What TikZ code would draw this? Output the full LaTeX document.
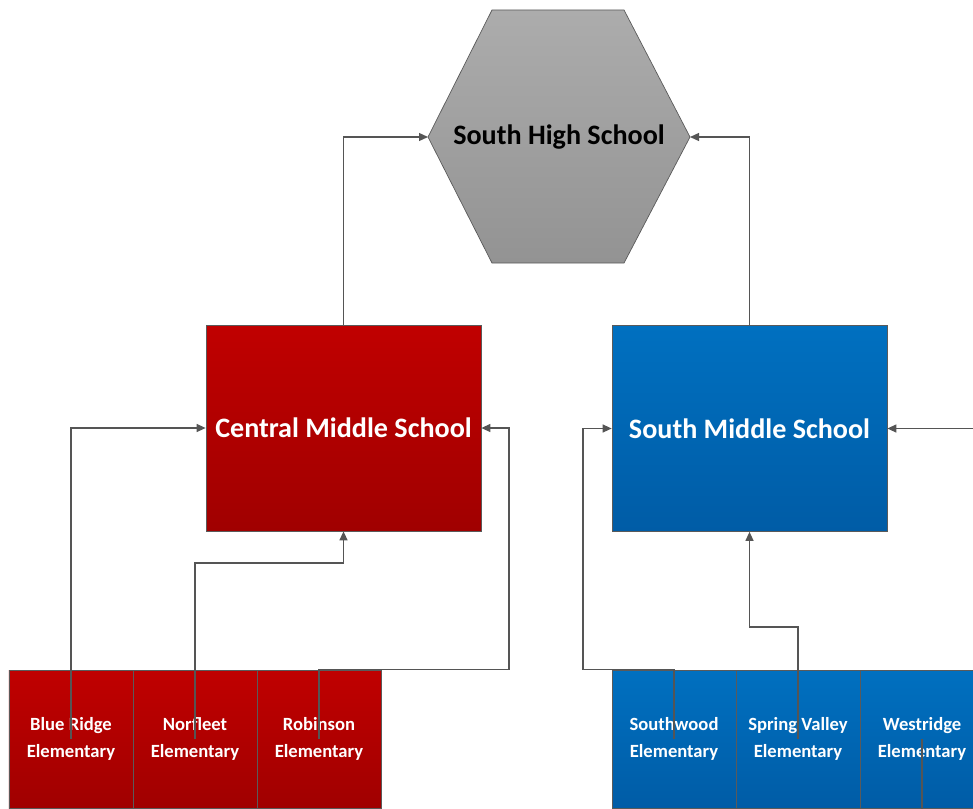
\documentclass[tikz,border=0pt]{standalone}
\usepackage{fontspec}
\setmainfont{Carlito}
\usepackage{tikz}
\usetikzlibrary{
  arrows.meta,
  calc,
  positioning
}
\usepackage{xcolor}
\definecolor{redtop}{RGB}{192, 0, 0}
\definecolor{redbot}{RGB}{160, 0, 0}
\definecolor{bluetop}{RGB}{0, 112, 192}
\definecolor{bluebot}{RGB}{0, 92, 166}
\definecolor{graytop}{RGB}{172, 172, 172}
\definecolor{graybot}{RGB}{147, 147, 147}
\definecolor{edgeclr}{RGB}{90, 90, 90}
\definecolor{linkclr}{RGB}{85, 85, 85}
\tikzset{
  % Maktab bloklari
  midred/.style   = {draw=edgeclr, thin, top color=redtop, bottom color=redbot,
                     minimum width=55mm, minimum height=41.2mm, text=white,
                     font=\bfseries\fontsize{16}{19}\selectfont},
  midblue/.style  = {midred, top color=bluetop, bottom color=bluebot},
  elemred/.style  = {draw=edgeclr, thin, top color=redtop, bottom color=redbot,
                     minimum width=24.8mm, minimum height=27.6mm, text=white,
                     align=center, inner sep=0pt,
                     font=\bfseries\fontsize{10.6}{15}\selectfont},
  elemblue/.style = {elemred, top color=bluetop, bottom color=bluebot},
  hexshape/.style = {draw=edgeclr, thin, top color=graytop, bottom color=graybot},
  hexlab/.style   = {font=\bfseries\fontsize{16}{19}\selectfont},
  % Bog'lovchi chiziqlar
  link/.style     = {-{Triangle[length=1.8mm,width=1.6mm]}, draw=linkclr,
                     line width=0.25mm},
}
\begin{document}
\begin{tikzpicture}[x=0.2mm,y=-0.2mm]
  \useasboundingbox (0,0) rectangle (973,808);
  \clip (0,0) rectangle (973,808);
  % Yuqori maktab
  \draw[hexshape] (492,10) -- (624,10) -- (690,137) -- (624,263)
    -- (492,263) -- (428,137) -- cycle;
  \node[hexlab] (high) at (559,137) {South High School};
  \coordinate (high-w) at (428,137);
  \coordinate (high-e) at (690,137);
  % O'rta maktablar
  \node[midred]  (central)  at (343.5,428) {Central Middle School};
  \node[midblue] (southmid) at (749.5,428.5) {South Middle School};
  % Boshlang'ich maktablar
  \node[elemred]  (blueridge) at (71,739)  {Blue Ridge\\Elementary};
  \node[elemred]  (norfleet)  at (195,739) {Norfleet\\Elementary};
  \node[elemred]  (robinson)  at (319,739) {Robinson\\Elementary};
  \node[elemblue] (southwood) at (674,739) {Southwood\\Elementary};
  \node[elemblue] (springv)   at (798,739) {Spring Valley\\Elementary};
  \node[elemblue] (westridge) at (922,739) {Westridge\\Elementary};
  % Chiziqlar
  \draw[link] (central.north) |- (high-w);
  \draw[link] (southmid.north) |- (high-e);
  \draw[link] (blueridge.center) |- (central.west);
  \draw[link] (norfleet.center) -- (norfleet.center |- 0,563) -| (central.south);
  \draw[link] (robinson.center) -- (robinson.north) -- ++(190,0) |- (central.east);
  \draw[link] (southwood.center) -- (southwood.north) -- ++(-91,0) |- (southmid.west);
  \draw[link] (springv.center) -- (springv.center |- 0,627) -| (southmid.south);
  \draw[link] (westridge.center) -- ++(0,120) -- ++(120,0) |- (southmid.east);
\end{tikzpicture}
\end{document}
